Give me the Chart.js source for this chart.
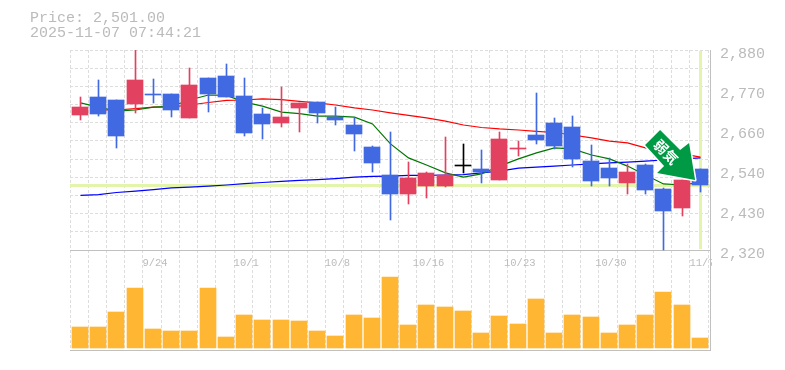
<!DOCTYPE html>
<html>
<head>
<meta charset="utf-8">
<title>Price chart</title>
<script src="https://cdn.jsdelivr.net/npm/chart.js@4"></script>
<style>
  html, body { margin: 0; padding: 0; background: #fff; }
  canvas { display: block; }
</style>
</head>
<body>
<canvas id="chart" width="785" height="370"></canvas>
<script>
const headerLines = ['Price: 2,501.00', '2025-11-07 07:44:21'];
const lastPrice = 2501;

const dates = ['9/17','9/18','9/19','9/22','9/24','9/25','9/26','9/29','9/30','10/1','10/2','10/3','10/6','10/7','10/8','10/9','10/10','10/14','10/15','10/16','10/17','10/20','10/21','10/22','10/23','10/24','10/27','10/28','10/29','10/30','10/31','11/4','11/5','11/6','11/7'];

const opens  = [2698,2748,2740,2729,2757,2757,2690,2802,2807,2751,2701,2676,2718,2734,2692,2670,2608,2530,2477,2499,2499,2554,2547,2516,2603,2642,2676,2664,2569,2550,2508,2558,2491,2438,2547];
const closes = [2720,2701,2639,2796,2755,2712,2782,2757,2748,2648,2673,2692,2732,2704,2684,2645,2564,2477,2522,2536,2530,2554,2538,2631,2605,2628,2611,2575,2513,2522,2538,2488,2429,2516,2501];
const highs  = [2748,2796,2740,2880,2799,2757,2830,2802,2841,2802,2718,2776,2732,2734,2720,2690,2611,2650,2566,2538,2636,2617,2600,2650,2625,2760,2690,2695,2614,2578,2561,2561,2494,2516,2547];
const lows   = [2684,2695,2606,2704,2731,2692,2690,2706,2748,2639,2631,2664,2650,2676,2670,2597,2538,2404,2449,2466,2496,2536,2508,2516,2583,2617,2603,2552,2499,2499,2477,2477,2320,2415,2482];

const maShort = [2732,2720,2709,2712,2720,2722,2740,2754,2753,2734,2723,2706,2702,2695,2695,2692,2673,2617,2578,2558,2536,2524,2533,2555,2575,2592,2606,2603,2586,2575,2555,2530,2505,2502,2510];
const maMid   = [null,2712,2712,2716,2720,2721,2726,2733,2739,2740,2743,2741,2736,2732,2726,2718,2712,2704,2697,2690,2681,2670,2663,2659,2656,2652,2649,2642,2634,2625,2620,2606,2597,2589,2580];
const maLong  = [2473,2475,2481,2485,2489,2494,2496,2499,2502,2506,2509,2512,2515,2517,2520,2524,2526,2527,2529,2529,2530,2531,2536,2541,2549,2552,2555,2558,2561,2564,2566,2569,2572,2575,2578];

const volumes = [2100,2100,3600,6000,1900,1700,1700,6000,1100,3300,2800,2800,2700,1700,1200,3300,3000,7100,2300,4300,4100,3700,1500,3200,2400,4900,1500,3300,3100,1500,2300,3300,5600,4300,1000];

const priceLabelValues = [2320,2432,2544,2656,2768,2880];

const GRID = '#dddddd';
const FRAME = '#c0c0c0';
const TEXT = '#bbbbbb';
const UP = '#e2425f';
const DOWN = '#4169e1';
const FLAT = '#000000';
const MONO = '"Liberation Mono", monospace';

function candleColor(i) {
  if (closes[i] > opens[i]) return UP;
  if (closes[i] < opens[i]) return DOWN;
  return FLAT;
}
const candleColors = dates.map((d, i) => candleColor(i));

// the sessions stop a little short of the frame on the right
const narrowSessions = {
  id: 'narrowSessions',
  afterLayout(chart) {
    chart.scales.x._length = chart.chartArea.width - 1.8;
  }
};

// snap the marks to whole pixels, the original has no blurry edges
const snapBars = {
  id: 'snapBars',
  afterDatasetsUpdate(chart) {
    chart.data.datasets.forEach((ds, n) => {
      chart.getDatasetMeta(n).data.forEach(el => {
        const isLine = ds.type === 'line';
        el.x = Math.round(el.x + 0.88) + (ds.wick || isLine ? 0.5 : 0);
        if (isLine) return;
        el.y = Math.round(el.y);
        el.base = Math.round(el.base);
        if (el.y === el.base) el.base = el.y + 1;
      });
    });
  }
};

// pale green cross hair on the last price and last session
const lastPriceMarks = {
  id: 'lastPriceMarks',
  beforeDatasetsDraw(chart) {
    const { ctx, chartArea, scales } = chart;
    const y = Math.round(scales.y.getPixelForValue(lastPrice));
    const x = Math.round(scales.x.getPixelForValue(dates.length - 1));
    ctx.save();
    ctx.fillStyle = '#e2f5aa';
    ctx.fillRect(chartArea.left, y - 1, chartArea.width, 3);
    ctx.fillRect(x, scales.y.getPixelForValue(2880) + 1, 3, 198);
    ctx.restore();
  }
};

const signalArrow = {
  id: 'signalArrow',
  afterDraw(chart) {
    const { ctx, chartArea, scales } = chart;
    // the last x label is cut off by the frame in the original
    ctx.save();
    ctx.fillStyle = '#fff';
    ctx.fillRect(chartArea.right + 2, chartArea.top + 203, 8, 16);

    const tipX = scales.x.getPixelForValue(dates.length - 1) - 4;
    const tipY = scales.y.getPixelForValue(2516);
    const shape = [[0,0],[-6,-37],[-15,-30],[-35,-50],[-50,-35],[-31,-14],[-38,-7]];
    ctx.beginPath();
    shape.forEach((p, i) => {
      if (i === 0) ctx.moveTo(tipX + p[0], tipY + p[1]);
      else ctx.lineTo(tipX + p[0], tipY + p[1]);
    });
    ctx.closePath();
    ctx.lineJoin = 'round';
    ctx.lineWidth = 3;
    ctx.strokeStyle = '#ffffff';
    ctx.stroke();
    ctx.fillStyle = '#009944';
    ctx.fill();

    ctx.translate(tipX - 29, tipY - 28);
    ctx.rotate(Math.PI / 4);
    ctx.fillStyle = '#ffffff';
    ctx.font = 'bold 14px "Noto Sans CJK JP"';
    ctx.textAlign = 'center';
    ctx.textBaseline = 'middle';
    ctx.fillText('弱気', 0, 0);
    ctx.restore();
  }
};

const gridLevels = Array.from({ length: 12 }, (_, k) => 2880 - k * 560 / 11).concat([2040]);

new Chart(document.getElementById('chart').getContext('2d'), {
  type: 'bar',
  data: {
    labels: dates,
    datasets: [
      { label: 'Volume', data: volumes, yAxisID: 'yVol', backgroundColor: '#ffb733', barThickness: 16, grouped: false, order: 6 },
      { type: 'line', label: 'MA long', data: maLong, yAxisID: 'y', borderColor: '#0000ff', borderWidth: 1.2, pointRadius: 0, tension: 0, order: 5 },
      { type: 'line', label: 'MA mid', data: maMid, yAxisID: 'y', borderColor: '#ff0000', borderWidth: 1.2, pointRadius: 0, tension: 0, order: 4 },
      { type: 'line', label: 'MA short', data: maShort, yAxisID: 'y', borderColor: '#007700', borderWidth: 1.2, pointRadius: 0, tension: 0, order: 3 },
      { label: 'High-Low', wick: true, data: highs.map((h, i) => [lows[i], h]), yAxisID: 'y', backgroundColor: candleColors, barThickness: 1, grouped: false, order: 2 },
      { label: 'Open-Close', data: opens.map((o, i) => [o, closes[i]]), yAxisID: 'y', backgroundColor: candleColors, barThickness: 16, minBarLength: 1, grouped: false, order: 1 }
    ]
  },
  options: {
    responsive: false,
    animation: false,
    layout: { padding: { left: 30, right: 0, top: 0, bottom: 20 } },
    plugins: {
      legend: { display: false },
      tooltip: { enabled: false },
      title: {
        display: true,
        text: headerLines,
        align: 'start',
        color: TEXT,
        font: { family: MONO, size: 15, weight: 'normal', lineHeight: 1 },
        padding: { top: 11, bottom: 9 }
      }
    },
    scales: {
      x: {
        type: 'category',
        position: { y: 2320 },
        offset: true,
        grid: { offset: true, drawTicks: false, color: GRID },
        border: { display: false, dash: [3, 2] },
        ticks: {
          autoSkip: false,
          maxRotation: 0,
          padding: 7,
          labelOffset: 3,
          color: TEXT,
          font: { family: MONO, size: 10.5 },
          callback(value, i) { return i % 5 === 4 ? dates[i] : ''; }
        }
      },
      y: {
        position: 'left',
        min: 2040,
        max: 2880,
        afterFit(scale) { scale.width = 40; },
        afterBuildTicks(scale) { scale.ticks = gridLevels.map(v => ({ value: v })); },
        grid: {
          drawTicks: false,
          color: ctx => ctx.index >= 11 ? FRAME : GRID
        },
        border: { display: false, dash: ctx => ctx.index >= 11 ? [] : [3, 2] },
        ticks: { display: false, autoSkip: false }
      },
      yPrice: {
        position: 'right',
        min: 2040,
        max: 2880,
        afterFit(scale) { scale.width = 75; },
        afterBuildTicks(scale) { scale.ticks = priceLabelValues.map(v => ({ value: v })); },
        grid: { drawOnChartArea: false, drawTicks: false },
        border: { display: true, color: FRAME, width: 1 },
        ticks: {
          autoSkip: false,
          padding: 10,
          labelOffset: 4,
          color: TEXT,
          font: { family: MONO, size: 15 },
          callback(value) { return (Math.round(value / 10) * 10).toLocaleString('en-US'); }
        }
      },
      yVol: { display: false, min: -200, max: 29800 }
    }
  },
  plugins: [narrowSessions, snapBars, lastPriceMarks, signalArrow]
});
</script>
</body>
</html>
